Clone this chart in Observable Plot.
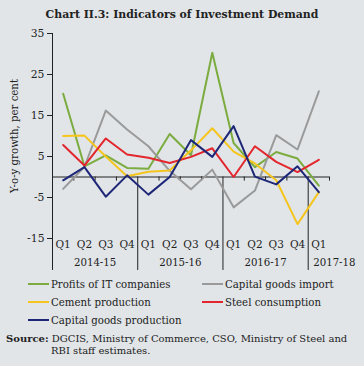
<!DOCTYPE html>
<html><head><meta charset="utf-8">
<script src="https://cdn.jsdelivr.net/npm/d3@7"></script>
<script src="https://cdn.jsdelivr.net/npm/@observablehq/plot@0.6"></script>
<style>
html,body{margin:0;padding:0;background:#e1e5e8;}
#wrap{position:relative;width:364px;height:366px;background:#e1e5e8;font-family:"DejaVu Serif",serif;color:#222;overflow:hidden;}
#title{position:absolute;left:0;top:7px;width:364px;text-align:center;font-weight:bold;font-size:10.9px;line-height:16px;}
#chart{position:absolute;left:0;top:26px;}
.leg{position:absolute;font-size:10.2px;line-height:14px;white-space:nowrap;}
.sw{display:inline-block;width:21px;height:2px;vertical-align:middle;margin-right:2px;position:relative;top:-1px;}
#source{position:absolute;left:6px;top:333px;width:356px;font-size:10px;line-height:12px;}
#source .l2{padding-left:45px;}
</style></head>
<body>
<div id="wrap">
  <div id="title">Chart II.3: Indicators of Investment Demand</div>
  <div id="chart"></div>
  <div id="legend"></div>
  <div id="source"><b>Source:</b> DGCIS, Ministry of Commerce, CSO, Ministry of Steel and<div class="l2">RBI staff estimates.</div></div>
</div>
<script>
const quarters = ["Q1","Q2","Q3","Q4","Q1","Q2","Q3","Q4","Q1","Q2","Q3","Q4","Q1"];
const years = ["2014-15","2015-16","2016-17","2017-18"];
const yTicks = [-15, -5, 5, 15, 25, 35];

const profitsIT      = [20.3, 2.6, 5.3, 2.2, 2.0, 10.5, 5.3, 30.3, 8.3, 2.4, 6.1, 4.5, -2.1];
const capGoodsImport = [-2.9, 2.5, 16.2, 11.6, 7.5, 1.5, -3.0, 1.8, -7.4, -3.3, 10.2, 6.7, 20.9];
const cement         = [10.0, 10.1, 5.0, 0.2, 1.3, 1.6, 6.5, 11.9, 6.2, 3.3, -0.8, -11.5, -3.7];
const steel          = [7.8, 2.8, 9.4, 5.5, 4.7, 3.4, 4.9, 7.0, 0.0, 7.5, 3.7, 1.2, 4.2];
const capGoodsProd   = [-0.8, 2.4, -4.8, 0.4, -4.3, 0.0, 9.0, 4.9, 12.4, 0.1, -1.8, 2.6, -3.7];

const seriesNames = ["Profits of IT companies", "Capital goods import", "Cement production", "Steel consumption", "Capital goods production"];
const seriesColors = ["#7cac3f", "#9a9a9a", "#f5c51e", "#e3262d", "#1e2777"];
const seriesValues = [profitsIT, capGoodsImport, cement, steel, capGoodsProd];

const rows = seriesValues.flatMap((vals, s) => vals.map((v, i) => ({i, v, name: seriesNames[s]})));

const boundaries = d3.range(13).map(i => i + 0.5).filter(b => ![3.5, 7.5, 11.5].includes(b));
const separators = [3.5, 7.5, 11.5];
const bottomV = -22.8;

const chart = Plot.plot({
  width: 364, height: 248,
  marginLeft: 52, marginRight: 35, marginTop: 7, marginBottom: 36,
  x: {type: "linear", domain: [-0.5, 12.5], axis: null},
  y: {domain: [-15, 35], axis: null},
  style: {background: "transparent", fontFamily: "DejaVu Serif", color: "#222", overflow: "visible"},
  marks: [
    Plot.axisY({ticks: yTicks, tickSize: 5, tickPadding: 3, fontSize: 10.8, label: null, tickFormat: d => String(d), stroke: "#222"}),
    Plot.ruleX([-0.5], {y1: () => 35, y2: () => bottomV, stroke: "#222", strokeWidth: 1}),
    Plot.ruleY([0], {stroke: "#222", strokeWidth: 1.2}),
    Plot.ruleX(boundaries, {y1: () => 0, y2: () => -1, stroke: "#222"}),
    Plot.ruleX(separators, {y1: () => 0, y2: () => bottomV, stroke: "#222"}),
    ...seriesNames.map((n, s) => Plot.line(rows.filter(r => r.name === n), {x: "i", y: "v", stroke: seriesColors[s], strokeWidth: 2})),
    Plot.text(quarters, {x: (d, i) => i, y: () => -15, dy: 6, text: d => d, fontSize: 10.5, fill: "#222"}),
    Plot.text(years.slice(0, 3), {x: (d, i) => i * 4 + 1.5, y: () => -15, dy: 24, text: d => d, fontSize: 10.2, fill: "#222"}),
    Plot.text(years.slice(3), {x: () => 11.5, y: () => -15, dy: 24, dx: 5, text: d => d, textAnchor: "start", fontSize: 10.2, fill: "#222"}),
    Plot.text(["Y-o-y growth, per cent"], {x: () => -0.5, y: () => 10, dx: -38, rotate: -90, textAnchor: "middle", lineAnchor: "middle", text: d => d, fontSize: 10.2, fill: "#222"})
  ]
});
document.getElementById("chart").appendChild(chart);

const legendPos = [[28, 285], [202, 285], [28, 302.7], [202, 302.7], [28, 320.7]];
const legend = document.getElementById("legend");
seriesNames.forEach((n, s) => {
  const d = document.createElement("div");
  d.className = "leg";
  d.style.left = legendPos[s][0] + "px";
  d.style.top = (legendPos[s][1] - 7) + "px";
  d.innerHTML = `<span class="sw" style="background:${seriesColors[s]}"></span>${n}`;
  legend.appendChild(d);
});
</script>
</body></html>
